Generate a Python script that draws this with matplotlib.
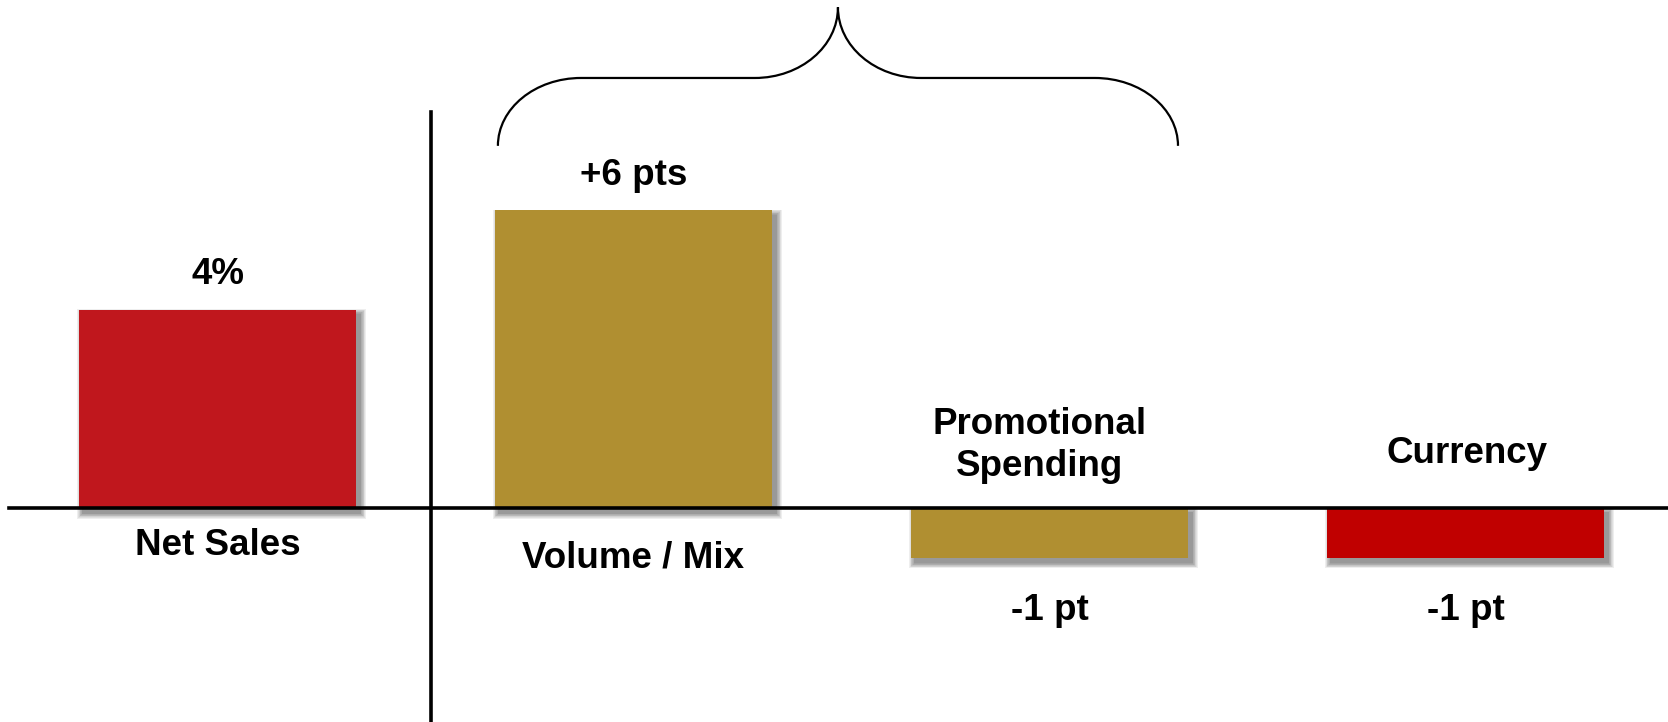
import matplotlib
matplotlib.use("Agg")
import matplotlib.pyplot as plt
from matplotlib.patches import Rectangle, PathPatch
from matplotlib.path import Path
from matplotlib.transforms import IdentityTransform, blended_transform_factory

plt.rcParams['font.family'] = ['Liberation Sans', 'DejaVu Sans']

# Sales bridge: net sales growth and its drivers
categories = ["Net Sales", "Volume / Mix", "Promotional\nSpending", "Currency"]
values = [4, 6, -1, -1]
value_labels = ["4%", "+6 pts", "-1 pt", "-1 pt"]
colors = ["#C0171D", "#B08F31", "#B08F31", "#C00000"]

W, H, DPI = 16.68, 7.22, 100
FS = 26.5
fig = plt.figure(figsize=(W, H), dpi=DPI)
ax = fig.add_axes([0, 0, 1, 1])
ax.set_xlim(-0.523, 3.487)
ax.set_ylim(-4.315, 10.24)
ax.axis("off")

x = list(range(len(categories)))
bars = ax.bar(x, values, width=0.666, color=colors, zorder=3, linewidth=0)

# soft drop shadows under each bar
fig.canvas.draw()
for b in bars:
    (x0, y0), (x1, y1) = ax.transData.transform([(b.get_x(), b.get_y()),
                                                 (b.get_x() + b.get_width(), b.get_y() + b.get_height())])
    xa, xb = min(x0, x1), max(x0, x1)
    ya, yb = min(y0, y1), max(y0, y1)
    n = 8
    for i in range(n):
        g = (n - i) * 0.7
        r = Rectangle((xa + 4 - g, ya - 5 - g), (xb - xa) + 2 * g, (yb - ya) + 2 * g,
                      transform=IdentityTransform(), facecolor="#303030",
                      alpha=0.08, linewidth=0, zorder=2)
        ax.add_artist(r)

# baseline and divider
ax.axhline(0, xmin=0.0054, xmax=1, color="black", lw=2.6, zorder=4)
ax.axvline(0.513, ymin=0, ymax=0.845, color="black", lw=2.6, zorder=4)

text_kw = dict(textcoords="offset points", ha="center", va="center",
               fontsize=FS, fontweight="bold", zorder=5)

# value labels
for xi, v, lab in zip(x, values, value_labels):
    dy = 25 if v >= 0 else -38
    ax.annotate(lab, (xi, v), xytext=(0, dy), **text_kw)

# category labels
ax.annotate(categories[0], (0, 0), xytext=(0, -27), **text_kw)
ax.annotate(categories[1], (1, 0), xytext=(0, -36), **text_kw)
ax.annotate(categories[2], (2, 0), xytext=(-7, 45), linespacing=1.25, **text_kw)
ax.annotate(categories[3], (3, 0), xytext=(1, 39), **text_kw)

# curly brace grouping the drivers
tr = blended_transform_factory(ax.transData, ax.transAxes)
xl, xr = 0.674, 2.309
xm = (xl + xr) / 2
r = 0.2
yb, yf, yt = 0.798, 0.892, 0.990
k = 0.5523
verts = [
    (xl, yb),
    (xl, yb + k * (yf - yb)), (xl + (1 - k) * r, yf), (xl + r, yf),
    (xm - r, yf),
    (xm - r + k * r, yf), (xm, yt - k * (yt - yf)), (xm, yt),
    (xm, yt - k * (yt - yf)), (xm + r - k * r, yf), (xm + r, yf),
    (xr - r, yf),
    (xr - (1 - k) * r, yf), (xr, yb + k * (yf - yb)), (xr, yb),
]
codes = [Path.MOVETO,
         Path.CURVE4, Path.CURVE4, Path.CURVE4,
         Path.LINETO,
         Path.CURVE4, Path.CURVE4, Path.CURVE4,
         Path.CURVE4, Path.CURVE4, Path.CURVE4,
         Path.LINETO,
         Path.CURVE4, Path.CURVE4, Path.CURVE4]
ax.add_patch(PathPatch(Path(verts, codes), transform=tr, facecolor="none",
                       edgecolor="black", lw=1.6, clip_on=False))

fig.savefig("out.png", dpi=DPI, facecolor="white")
